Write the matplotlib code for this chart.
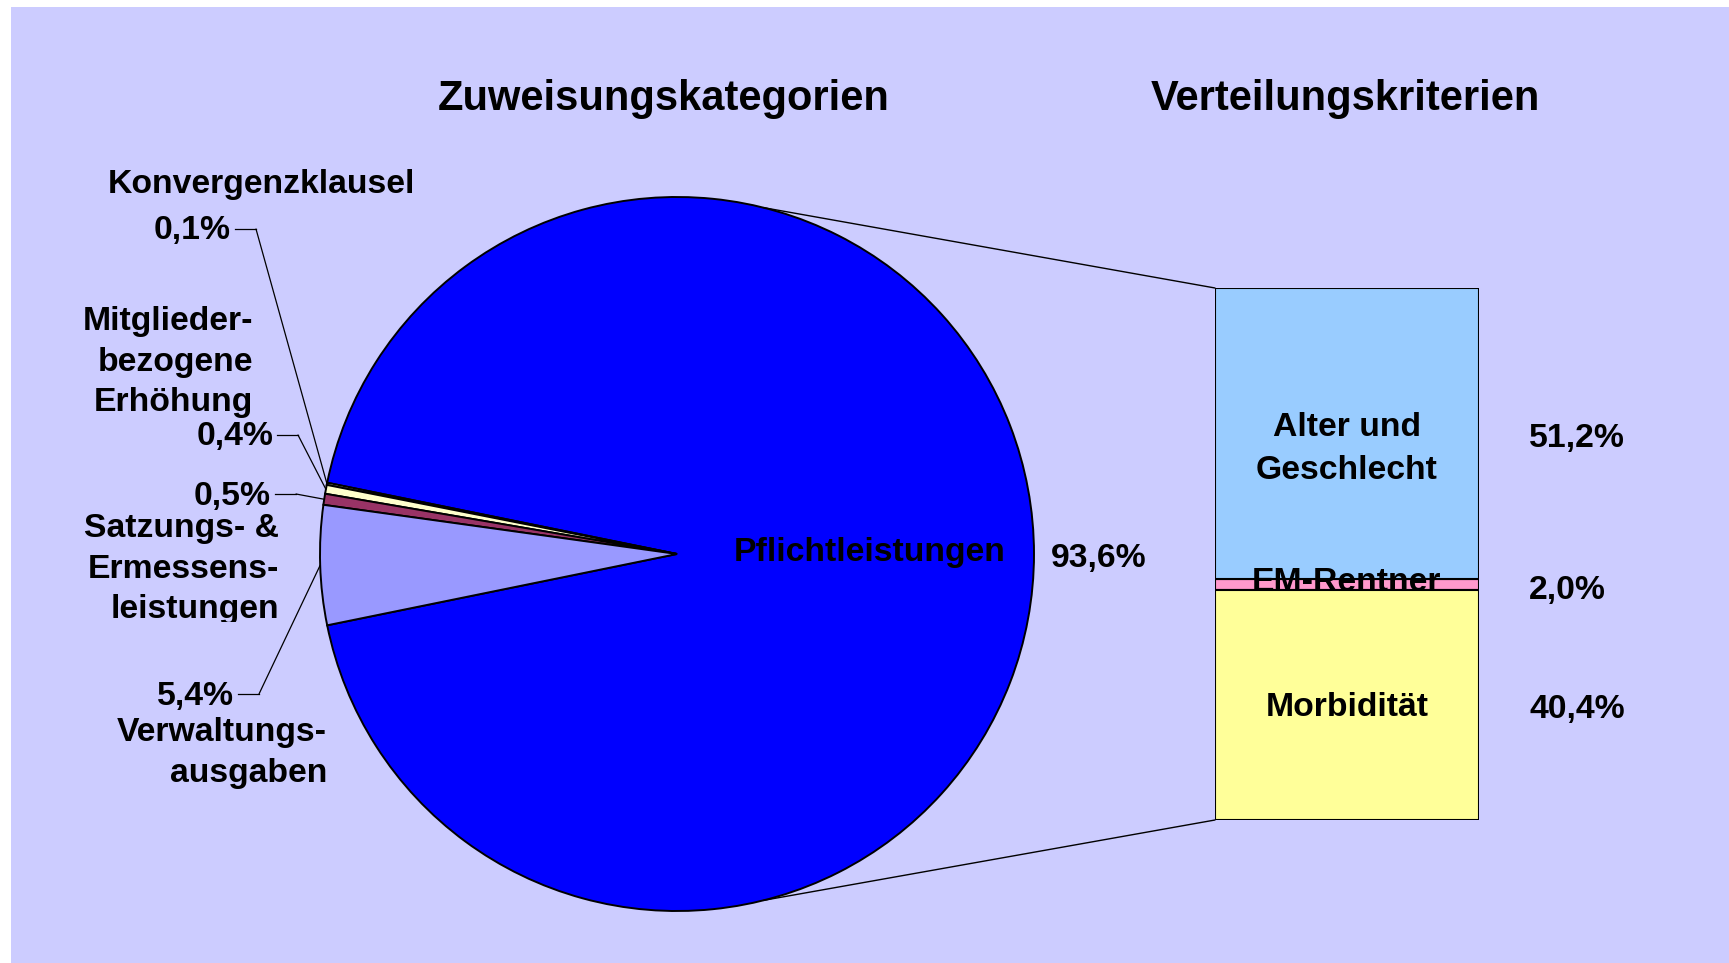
import matplotlib
matplotlib.use("Agg")
import matplotlib.pyplot as plt
import numpy as np
from matplotlib.lines import Line2D
from matplotlib.patches import ConnectionPatch, Rectangle

# pie: Zuweisungskategorien
pie_names = ["Pflichtleistungen", "Konvergenzklausel", "Mitglieder-\nbezogene\nErhöhung",
             "Satzungs- &\nErmessens-\nleistungen", "Verwaltungs-\nausgaben"]
pie_values = [93.6, 0.1, 0.4, 0.5, 5.4]
pie_pct = ["93,6%", "0,1%", "0,4%", "0,5%", "5,4%"]
pie_colors = ["#0000FF", "#FFFFCC", "#FFFFCC", "#993366", "#9999FF"]

# bar: Verteilungskriterien (bottom to top)
bar_names = ["Morbidität", "EM-Rentner", "Alter und\nGeschlecht"]
bar_values = [40.4, 2.0, 51.2]
bar_pct = ["40,4%", "2,0%", "51,2%"]
bar_colors = ["#FFFF99", "#FF99CC", "#99CCFF"]

W, H = 1729, 963
FS = 24.3
plt.rcParams["font.family"] = ["Liberation Sans", "DejaVu Sans"]
plt.rcParams["font.weight"] = "bold"


def fx(px):
    return px / W


def fy(py):
    return 1 - py / H


fig = plt.figure(figsize=(W / 100, H / 100), dpi=100, facecolor="white")
fig.patches.append(Rectangle((fx(11), 0), 1, fy(7), transform=fig.transFigure,
                             facecolor="#CCCCFF", edgecolor="none", zorder=-5))

# pie
cx, cy, r = 677, 554, 357
ax_pie = fig.add_axes([fx(cx - r), fy(cy + r), 2 * r / W, 2 * r / H])
wedges, _ = ax_pie.pie(pie_values, colors=pie_colors, startangle=-pie_values[0] / 100 * 180,
                       counterclock=True, radius=1,
                       wedgeprops=dict(edgecolor="black", linewidth=1.4))
ax_pie.set_xlim(-1, 1)
ax_pie.set_ylim(-1, 1)
ax_pie.axis("off")

# bar
bx0, bx1, by0, by1 = 1215, 1479, 288, 820
ax_bar = fig.add_axes([fx(bx0), fy(by1), (bx1 - bx0) / W, (by1 - by0) / H])
bottoms = np.concatenate([[0], np.cumsum(bar_values)[:-1]])
total = sum(bar_values)
for i, (v, b, c) in enumerate(zip(bar_values, bottoms, bar_colors)):
    ax_bar.bar(0, v, bottom=b, width=1, color=c, edgecolor="black", linewidth=1.5,
               zorder=4 if i == 0 else 2)
ax_bar.set_xlim(-0.5, 0.5)
ax_bar.set_ylim(0, total)
ax_bar.axis("off")

name_dy = [-2, 2, -15]
pct_dy = [-4, -6, -5]
for i, (name, v, b, pct) in enumerate(zip(bar_names, bar_values, bottoms, bar_pct)):
    mid = b + v / 2
    ax_bar.annotate(name, (0, mid), xytext=(0, name_dy[i]), textcoords="offset pixels",
                    ha="center", va="center", fontsize=FS, fontweight="bold",
                    linespacing=1.5, zorder=5 if i == 0 else 3)
    ax_bar.annotate(pct, (0.5, mid), xytext=(50, pct_dy[i]), textcoords="offset pixels",
                    ha="left", va="center", fontsize=FS, fontweight="bold", zorder=5)

# connectors pie -> bar
for ang, yb in [(76, total), (-76, 0)]:
    t = np.deg2rad(ang)
    con = ConnectionPatch(xyA=(np.cos(t), np.sin(t)), coordsA=ax_pie.transData,
                          xyB=(-0.5, yb), coordsB=ax_bar.transData,
                          color="black", linewidth=1)
    fig.add_artist(con)

# titles
fig.text(fx(664), fy(99), "Zuweisungskategorien", ha="center", va="center",
         fontsize=30, fontweight="bold")
fig.text(fx(1345), fy(99), "Verteilungskriterien", ha="center", va="center",
         fontsize=30, fontweight="bold")

# main slice labels
fig.text(fx(870), fy(552), pie_names[0], ha="center", va="center", fontsize=FS, fontweight="bold")
fig.text(fx(1099), fy(558), pie_pct[0], ha="center", va="center", fontsize=FS, fontweight="bold")

# small slice labels
name_pos = [(415, 184), (253, 362), (279, 569), (327, 753)]
pct_pos = [(231, 231), (273, 437), (271, 496), (234, 696)]
for k, i in enumerate(range(1, 5)):
    nx, ny = name_pos[k]
    t = fig.text(fx(nx), fy(ny), pie_names[i], ha="right", va="center", ma="right",
                 fontsize=FS, fontweight="bold", linespacing=1.4)
    if i == 3:
        t.set_clip_path(Rectangle((0, fy(622)), 1, 1, transform=fig.transFigure))
    px, py = pct_pos[k]
    fig.text(fx(px), fy(py), pie_pct[i], ha="right", va="center", fontsize=FS, fontweight="bold")
    w = wedges[i]
    mid = np.deg2rad((w.theta1 + w.theta2) / 2)
    elbow = (fx(px + 25), fy(py - 2))
    fig.add_artist(Line2D([fx(px + 4), elbow[0]], [elbow[1], elbow[1]],
                          transform=fig.transFigure, color="black", linewidth=0.9))
    con = ConnectionPatch(xyA=elbow, coordsA=fig.transFigure,
                          xyB=(np.cos(mid), np.sin(mid)), coordsB=ax_pie.transData,
                          color="black", linewidth=0.9)
    fig.add_artist(con)

fig.savefig("out.png", dpi=100, facecolor="white")
